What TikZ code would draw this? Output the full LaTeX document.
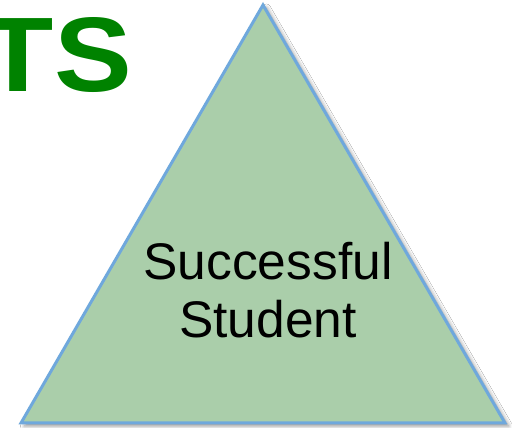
\documentclass[tikz,border=0pt]{standalone}
\usepackage{fontspec}
\setmainfont{Liberation Sans}
\usetikzlibrary{shadows.blur}
\definecolor{pyrfill}{HTML}{AACEAA}
\definecolor{pyredge}{HTML}{6FA8DC}
\definecolor{titlegreen}{HTML}{008200}

\tikzset{
  pyramid/.style={fill=pyrfill, draw=pyredge, line width=3pt, line join=miter,
    blur shadow={shadow xshift=3.5pt, shadow yshift=-3pt, shadow blur radius=4pt,
      shadow opacity=45}},
  pyrlabel/.style={align=center, font=\fontsize{51.5}{58}\selectfont},
  bigtitle/.style={text=titlegreen, inner sep=0pt,
    font=\fontsize{106}{110}\selectfont\bfseries}
}

\begin{document}
\begin{tikzpicture}[x=1pt,y=1pt]
  \useasboundingbox (0,0) rectangle (512,428);
  \fill[white] (0,0) rectangle (512,428);

  % corners of the triangle
  \coordinate (top) at (263,423);
  \coordinate (left) at (21,5);
  \coordinate (right) at (505,5);
  \path[pyramid] (top) -- (right) -- (left) -- cycle;

  % cut-off heading on the left
  \node[bigtitle, anchor=base east, xscale=1.1] (title) at (132,336) {TS};

  \node[pyrlabel] (student) at (268,138) {Successful\\Student};
\end{tikzpicture}
\end{document}
